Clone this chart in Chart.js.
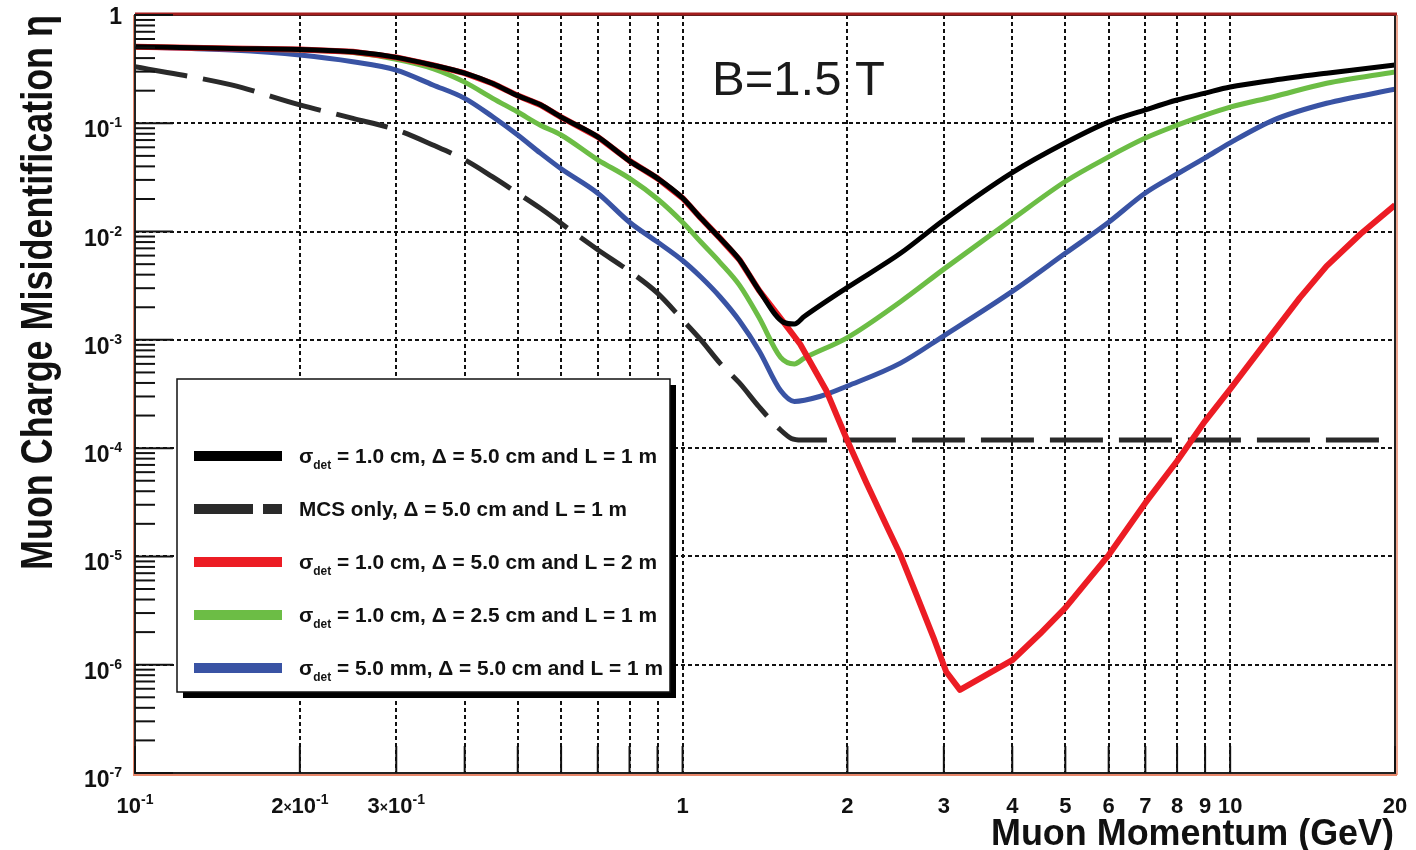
<!DOCTYPE html>
<html>
<head>
<meta charset="utf-8">
<title>Muon charge misidentification</title>
<script src="https://cdn.jsdelivr.net/npm/chart.js@4.4.1/dist/chart.umd.min.js"></script>
<style>
	html, body { margin: 0; padding: 0; background: #fff; }
	canvas { display: block; }
</style>
</head>
<body>
<canvas id="graph" width="1416" height="850"></canvas>
<script>
// momentum (GeV) and misidentification rate for each curve
const pBlack = [0.1, 0.15, 0.2, 0.25, 0.3, 0.35, 0.4, 0.45, 0.5, 0.55, 0.6, 0.7, 0.8, 0.9, 1.0, 1.08, 1.17, 1.27, 1.38, 1.53, 1.6, 1.67, 2, 2.5, 3, 4, 5, 6, 7, 8, 9, 10, 12, 15, 20];
const etaBlack = [0.51, 0.49, 0.48, 0.457, 0.406, 0.344, 0.29, 0.233, 0.18, 0.148, 0.114, 0.075, 0.045, 0.031, 0.0204, 0.0133, 0.0087, 0.0055, 0.00285, 0.00145, 0.0014, 0.00165, 0.00305, 0.0063, 0.0128, 0.035, 0.066, 0.103, 0.133, 0.164, 0.19, 0.216, 0.25, 0.29, 0.346];

const pMcs = [0.1, 0.15, 0.2, 0.25, 0.3, 0.35, 0.4, 0.45, 0.5, 0.55, 0.6, 0.7, 0.8, 0.9, 1.0, 1.08, 1.17, 1.27, 1.38, 1.51, 1.58, 1.65, 20];
const etaMcs = [0.333, 0.226, 0.148, 0.111, 0.087, 0.063, 0.046, 0.032, 0.0226, 0.0164, 0.0119, 0.0068, 0.0043, 0.0027, 0.00153, 0.001, 0.00061, 0.0004, 0.00024, 0.000147, 0.000123, 0.000119, 0.000119];

const pRed = [0.1, 0.15, 0.2, 0.25, 0.3, 0.35, 0.4, 0.45, 0.5, 0.55, 0.6, 0.7, 0.8, 0.9, 1.0, 1.08, 1.17, 1.27, 1.38, 1.53, 1.64, 1.83, 2, 2.17, 2.36, 2.5, 2.68, 2.87, 3.03, 3.21, 4, 4.49, 5, 6, 7, 8, 9, 10, 12, 13.4, 15, 17.3, 20];
const etaRed = [0.51, 0.49, 0.48, 0.457, 0.406, 0.344, 0.29, 0.233, 0.18, 0.148, 0.114, 0.075, 0.045, 0.031, 0.0204, 0.0133, 0.0087, 0.0055, 0.00285, 0.00145, 9.1e-4, 3.4e-4, 1.17e-4, 4.7e-5, 1.9e-5, 1.03e-5, 4.3e-6, 1.8e-6, 8.6e-7, 5.85e-7, 1.1e-6, 1.92e-6, 3.35e-6, 1.03e-5, 3.12e-5, 7.6e-5, 1.78e-4, 3.5e-4, 1.18e-3, 2.44e-3, 4.8e-3, 9.5e-3, 0.0176];

const pGreen = [0.1, 0.15, 0.2, 0.25, 0.3, 0.35, 0.4, 0.45, 0.5, 0.55, 0.6, 0.7, 0.8, 0.9, 1.0, 1.08, 1.17, 1.27, 1.38, 1.51, 1.6, 1.67, 2, 2.5, 3, 4, 5, 6, 7, 8, 9, 10, 12, 15, 20];
const etaGreen = [0.51, 0.49, 0.475, 0.45, 0.39, 0.32, 0.24, 0.17, 0.127, 0.096, 0.078, 0.046, 0.031, 0.020, 0.0122, 0.008, 0.0052, 0.0032, 0.0016, 0.00069, 0.0006, 0.00068, 0.00105, 0.00225, 0.0045, 0.013, 0.029, 0.049, 0.073, 0.096, 0.119, 0.141, 0.176, 0.234, 0.298];

const pBlue = [0.1, 0.15, 0.2, 0.25, 0.3, 0.35, 0.4, 0.45, 0.5, 0.55, 0.6, 0.7, 0.8, 0.9, 1.0, 1.08, 1.17, 1.27, 1.38, 1.51, 1.6, 1.78, 2, 2.5, 3, 4, 5, 6, 7, 8, 9, 10, 12, 15, 20];
const etaBlue = [0.51, 0.475, 0.427, 0.37, 0.31, 0.226, 0.17, 0.115, 0.078, 0.053, 0.038, 0.0226, 0.0122, 0.008, 0.0054, 0.0038, 0.0025, 0.0015, 0.00079, 0.00034, 0.00027, 0.0003, 0.000375, 0.00061, 0.00109, 0.0028, 0.0063, 0.0122, 0.0227, 0.034, 0.048, 0.066, 0.107, 0.153, 0.206];

const seriesLabels = [
	'σ_det = 1.0 cm, Δ = 5.0 cm and L = 1 m',
	'MCS only, Δ = 5.0 cm and L = 1 m',
	'σ_det = 1.0 cm, Δ = 5.0 cm and L = 2 m',
	'σ_det = 1.0 cm, Δ = 2.5 cm and L = 1 m',
	'σ_det = 5.0 mm, Δ = 5.0 cm and L = 1 m',
];

// axes
const xGrid = [0.1, 0.2, 0.3, 0.4, 0.5, 0.6, 0.7, 0.8, 0.9, 1, 2, 3, 4, 5, 6, 7, 8, 9, 10, 20];
const xLabelValues = [0.1, 0.2, 0.3, 1, 2, 3, 4, 5, 6, 7, 8, 9, 10, 20];
const xLabels = ['10^-1', '2×10^-1', '3×10^-1', '1', '2', '3', '4', '5', '6', '7', '8', '9', '10', '20'];
const yDecades = [0, -1, -2, -3, -4, -5, -6, -7];
const yLabels = ['1', '10^-1', '10^-2', '10^-3', '10^-4', '10^-5', '10^-6', '10^-7'];

const FONT = '"Liberation Sans", Arial, Helvetica, sans-serif';
const RED = '#ec1c24';
const GREEN = '#6cbd45';
const BLUE = '#3953a4';
const DARK = '#2a2a2a';

const toPoints = (xs, ys) => xs.map((x, i) => ({ x: x, y: ys[i] }));

const lineStyle = {
	pointRadius: 0,
	fill: false,
	cubicInterpolationMode: 'monotone',
	borderJoinStyle: 'round',
	borderCapStyle: 'butt',
};

const data = {
	datasets: [
		{ ...lineStyle, label: seriesLabels[0], data: toPoints(pBlack, etaBlack), borderColor: '#000', borderWidth: 5, order: 0 },
		{ ...lineStyle, label: seriesLabels[1], data: toPoints(pMcs, etaMcs), borderColor: DARK, borderWidth: 5, borderDash: [53, 16], order: 2 },
		// the red curve has a sharp minimum, keep it as straight segments
		{ ...lineStyle, cubicInterpolationMode: 'default', tension: 0, label: seriesLabels[2], data: toPoints(pRed, etaRed), borderColor: RED, borderWidth: 6, order: 1 },
		{ ...lineStyle, label: seriesLabels[3], data: toPoints(pGreen, etaGreen), borderColor: GREEN, borderWidth: 5, order: 3 },
		{ ...lineStyle, label: seriesLabels[4], data: toPoints(pBlue, etaBlue), borderColor: BLUE, borderWidth: 5, order: 4 },
	],
};

// draws text pieces one after another (for superscripts / subscripts)
function richWidth(ctx, parts) {
	let w = 0;
	for (const p of parts) {
		ctx.font = p.font;
		w += ctx.measureText(p.t).width;
	}
	return w;
}

function drawRich(ctx, parts, x, y, align) {
	const w = richWidth(ctx, parts);
	let cx = align === 'right' ? x - w : align === 'center' ? x - w / 2 : x;
	ctx.textAlign = 'left';
	ctx.textBaseline = 'alphabetic';
	for (const p of parts) {
		ctx.font = p.font;
		ctx.fillText(p.t, cx, y + (p.dy || 0));
		cx += ctx.measureText(p.t).width;
	}
}

function powerParts(label, size) {
	const big = 'bold ' + size + 'px ' + FONT;
	const small = 'bold ' + Math.round(size * 0.62) + 'px ' + FONT;
	const [base, exp] = label.split('^');
	const parts = [];
	if (base.includes('×')) {
		const [m, ten] = base.split('×');
		parts.push({ t: m, font: big });
		parts.push({ t: '×', font: small, dy: -1 });
		parts.push({ t: ten, font: big });
	} else {
		parts.push({ t: base, font: big });
	}
	if (exp) parts.push({ t: exp, font: small, dy: -Math.round(size * 0.42) });
	return parts;
}

function line(ctx, x1, y1, x2, y2) {
	ctx.beginPath();
	ctx.moveTo(x1, y1);
	ctx.lineTo(x2, y2);
	ctx.stroke();
}

const decor = {
	id: 'decor',
	afterDraw(chart) {
		const { ctx, chartArea: a } = chart;
		const xs = chart.scales.x;
		const ys = chart.scales.y;
		ctx.save();
		ctx.setLineDash([]);
		ctx.fillStyle = '#111';

		// frame
		ctx.strokeStyle = '#e8876a';
		ctx.lineWidth = 2;
		line(ctx, a.left - 1, a.top, a.left - 1, a.bottom + 2);
		ctx.lineWidth = 3;
		line(ctx, a.left - 2, a.bottom + 1.5, a.right + 2, a.bottom + 1.5);
		ctx.lineWidth = 1.5;
		line(ctx, a.right + 2, a.top, a.right + 2, a.bottom + 2);
		ctx.strokeStyle = '#222';
		ctx.lineWidth = 2;
		ctx.strokeRect(a.left, a.top, a.right - a.left, a.bottom - a.top);
		ctx.strokeStyle = '#a31d1d';
		ctx.lineWidth = 3;
		line(ctx, a.left, a.top - 1, a.right + 2, a.top - 1);

		// inner ticks on the y axis
		ctx.strokeStyle = '#111';
		ctx.lineWidth = 2;
		for (const e of yDecades) {
			const py = ys.getPixelForValue(Math.pow(10, e));
			line(ctx, a.left, py, a.left + 38, py);
			if (e === 0) continue;
			for (let m = 2; m <= 9; m++) {
				const my = ys.getPixelForValue(m * Math.pow(10, e));
				line(ctx, a.left, my, a.left + 20, my);
			}
		}
		// inner ticks on the x axis
		for (const v of xGrid) {
			const px = xs.getPixelForValue(v);
			line(ctx, px, a.bottom, px, a.bottom - 27);
		}

		// tick labels
		yDecades.forEach((e, i) => {
			const py = ys.getPixelForValue(Math.pow(10, e));
			const off = e === 0 ? 9 : 14;
			drawRich(ctx, powerParts(yLabels[i], 23), a.left - 13, py + off, 'right');
		});
		xLabelValues.forEach((v, i) => {
			const px = xs.getPixelForValue(v);
			drawRich(ctx, powerParts(xLabels[i], 22), px, a.bottom + 40, 'center');
		});

		// axis titles
		ctx.fillStyle = '#111';
		ctx.textBaseline = 'alphabetic';
		ctx.save();
		ctx.font = 'bold 36px ' + FONT;
		const xt = 'Muon Momentum (GeV)';
		const xw = ctx.measureText(xt).width;
		ctx.translate(1394, 845);
		ctx.scale(403 / xw, 1);
		ctx.textAlign = 'right';
		ctx.fillText(xt, 0, 0);
		ctx.restore();

		ctx.save();
		ctx.font = 'bold 44px ' + FONT;
		const yt = 'Muon Charge Misidentification η';
		const yw = ctx.measureText(yt).width;
		ctx.translate(52, 570);
		ctx.rotate(-Math.PI / 2);
		ctx.scale(555 / yw, 1);
		ctx.textAlign = 'left';
		ctx.fillText(yt, 0, 0);
		ctx.restore();

		// field label
		ctx.font = '49px ' + FONT;
		ctx.textAlign = 'left';
		ctx.fillStyle = '#1a1a1a';
		ctx.fillText('B=1.5 T', 712, 95);

		// legend box with shadow
		const bx = 177, by = 379, bw = 493, bh = 313;
		ctx.fillStyle = '#000';
		ctx.fillRect(bx + 6, by + 6, bw, bh);
		ctx.fillStyle = '#fff';
		ctx.fillRect(bx, by, bw, bh);
		ctx.strokeStyle = '#111';
		ctx.lineWidth = 1.5;
		ctx.strokeRect(bx, by, bw, bh);

		const rowY = [456, 509, 562, 615, 668];
		const textEnd = [657, 627, 657, 657, 663];
		chart.data.datasets.forEach((ds, i) => {
			const cy = rowY[i];
			ctx.strokeStyle = ds.borderColor;
			ctx.lineWidth = 10;
			ctx.lineCap = 'butt';
			if (ds.borderDash) {
				line(ctx, 194, cy, 253, cy);
				line(ctx, 263, cy, 282, cy);
			} else {
				line(ctx, 194, cy, 282, cy);
			}
			const big = 'bold 21px ' + FONT;
			const sub = 'bold 12px ' + FONT;
			let parts;
			if (ds.label.startsWith('σ_det')) {
				parts = [
					{ t: 'σ', font: big },
					{ t: 'det', font: sub, dy: 6 },
					{ t: ds.label.slice(5), font: big },
				];
			} else {
				parts = [{ t: ds.label, font: big }];
			}
			const w = richWidth(ctx, parts);
			ctx.save();
			ctx.fillStyle = '#111';
			ctx.translate(299, cy + 7);
			ctx.scale((textEnd[i] - 299) / w, 1);
			drawRich(ctx, parts, 0, 0, 'left');
			ctx.restore();
		});

		ctx.restore();
	},
};

const config = {
	type: 'line',
	data: data,
	options: {
		responsive: false,
		animation: false,
		devicePixelRatio: 1,
		layout: { padding: { left: 135, top: 15, right: 21, bottom: 77 } },
		scales: {
			x: {
				type: 'logarithmic',
				min: 0.1,
				max: 20,
				afterBuildTicks: (scale) => {
					scale.ticks = xGrid.map((v) => ({ value: v }));
				},
				ticks: { display: false },
				grid: { color: '#111', lineWidth: 2, drawTicks: false },
				border: { display: false, dash: [4, 3] },
			},
			y: {
				type: 'logarithmic',
				min: 1e-7,
				max: 1,
				afterBuildTicks: (scale) => {
					scale.ticks = yDecades.map((e) => ({ value: Math.pow(10, e) }));
				},
				ticks: { display: false },
				grid: { color: '#111', lineWidth: 2, drawTicks: false },
				border: { display: false, dash: [4, 3] },
			},
		},
		plugins: {
			legend: { display: false },
			tooltip: { enabled: false },
		},
	},
	plugins: [decor],
};

const c = new Chart(document.getElementById('graph'), config);
</script>
</body>
</html>
